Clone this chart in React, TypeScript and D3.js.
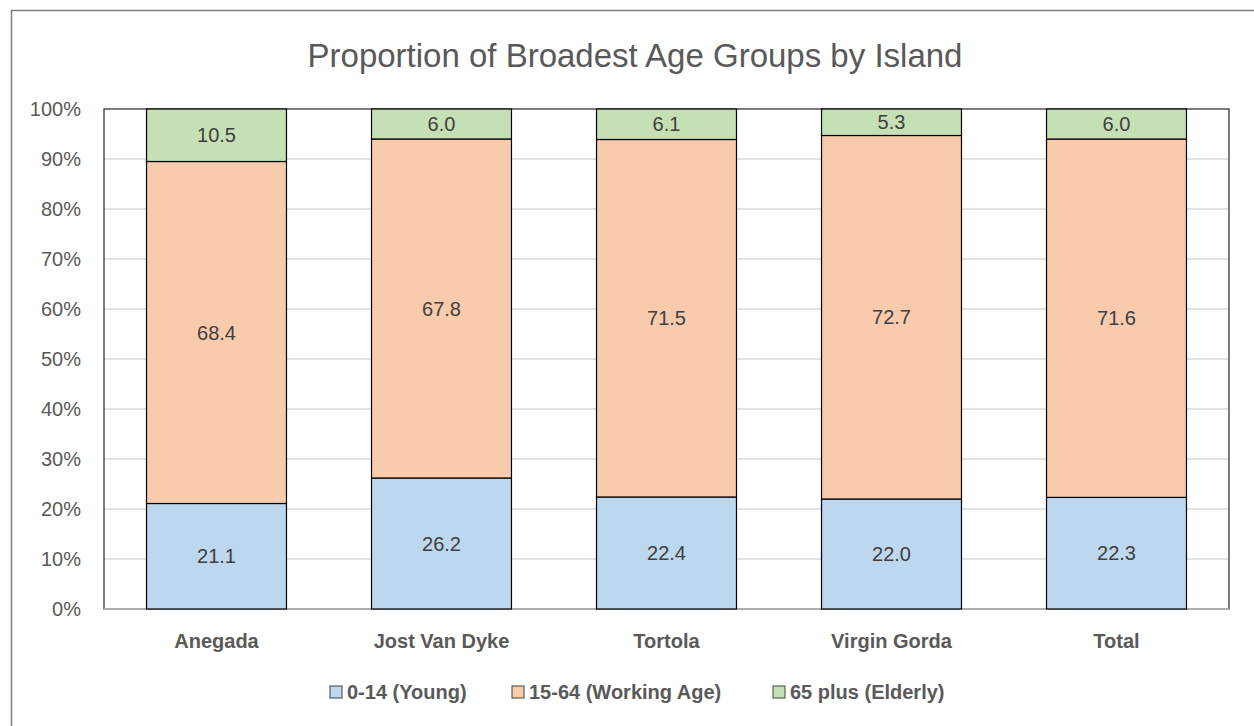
import React, { useEffect, useRef } from 'react';
import * as d3 from 'd3';

const islands = ['Anegada', 'Jost Van Dyke', 'Tortola', 'Virgin Gorda', 'Total'];
const seriesNames = ['0-14 (Young)', '15-64 (Working Age)', '65 plus (Elderly)'];
const young = [21.1, 26.2, 22.4, 22.0, 22.3];
const working = [68.4, 67.8, 71.5, 72.7, 71.6];
const elderly = [10.5, 6.0, 6.1, 5.3, 6.0];
const colors = ['#BDD7EE', '#F8CBAD', '#C5E0B4'];
const yTicks = [0, 0.1, 0.2, 0.3, 0.4, 0.5, 0.6, 0.7, 0.8, 0.9, 1];

const W = 1254;
const H = 726;

function App() {
  const ref = useRef<SVGSVGElement>(null);

  useEffect(() => {
    const svg = d3.select(ref.current);
    svg.selectAll('*').remove();

    const margin = { left: 104, right: 25, top: 109, bottom: 117 };
    const font = '"Liberation Sans", Arial, sans-serif';

    // outer chart border
    svg
      .append('rect')
      .attr('x', 11.5)
      .attr('y', 10.5)
      .attr('width', W)
      .attr('height', H)
      .attr('fill', '#fff')
      .attr('stroke', '#7f7f7f')
      .attr('stroke-width', 1.5);

    svg
      .append('text')
      .attr('x', 635)
      .attr('y', 67)
      .attr('text-anchor', 'middle')
      .attr('font-family', font)
      .attr('font-size', 33)
      .attr('fill', '#595959')
      .text('Proportion of Broadest Age Groups by Island');

    const rows = islands.map((name, i) => ({
      name,
      s0: young[i],
      s1: working[i],
      s2: elderly[i],
    }));
    const keys = ['s0', 's1', 's2'];
    const stacked = d3.stack<any>().keys(keys).offset(d3.stackOffsetExpand)(rows);

    const x = d3
      .scaleBand()
      .domain(islands)
      .range([margin.left, W - margin.right])
      .paddingInner(0.378)
      .paddingOuter(0.189);
    const y = d3.scaleLinear().domain([0, 1]).range([H - margin.bottom, margin.top]);

    const g = svg.append('g');

    // gridlines
    g.selectAll('.grid')
      .data(yTicks.slice(1, -1))
      .enter()
      .append('line')
      .attr('x1', margin.left)
      .attr('x2', W - margin.right)
      .attr('y1', d => y(d))
      .attr('y2', d => y(d))
      .attr('stroke', '#d9d9d9')
      .attr('stroke-width', 1.5);

    // plot area border
    g.append('rect')
      .attr('x', margin.left)
      .attr('y', margin.top)
      .attr('width', W - margin.left - margin.right)
      .attr('height', H - margin.top - margin.bottom)
      .attr('fill', 'none')
      .attr('stroke', '#262626')
      .attr('stroke-width', 1.2);

    g.append('line')
      .attr('x1', margin.left)
      .attr('x2', W - margin.right)
      .attr('y1', y(0))
      .attr('y2', y(0))
      .attr('stroke', '#bfbfbf')
      .attr('stroke-width', 1.5);

    // y axis labels
    g.selectAll('.ytick')
      .data(yTicks)
      .enter()
      .append('text')
      .attr('x', 81)
      .attr('y', d => y(d))
      .attr('dy', '0.35em')
      .attr('text-anchor', 'end')
      .attr('font-family', font)
      .attr('font-size', 20)
      .attr('fill', '#595959')
      .text(d => d3.format('.0%')(d));

    // bars
    stacked.forEach((layer, li) => {
      const lg = g.append('g');
      lg.selectAll('rect')
        .data(layer)
        .enter()
        .append('rect')
        .attr('x', d => x(d.data.name)!)
        .attr('y', d => y(d[1]))
        .attr('width', x.bandwidth())
        .attr('height', d => y(d[0]) - y(d[1]))
        .attr('fill', colors[li])
        .attr('stroke', '#000')
        .attr('stroke-width', 1.2);
      lg.selectAll('text')
        .data(layer)
        .enter()
        .append('text')
        .attr('x', d => x(d.data.name)! + x.bandwidth() / 2)
        .attr('y', d => (y(d[0]) + y(d[1])) / 2)
        .attr('dy', '0.35em')
        .attr('text-anchor', 'middle')
        .attr('font-family', font)
        .attr('font-size', 20)
        .attr('fill', '#404040')
        .text(d => d3.format('.1f')(d.data[keys[li]]));
    });

    // category labels
    g.selectAll('.xlab')
      .data(islands)
      .enter()
      .append('text')
      .attr('x', d => x(d)! + x.bandwidth() / 2)
      .attr('y', 641)
      .attr('dy', '0.35em')
      .attr('text-anchor', 'middle')
      .attr('font-family', font)
      .attr('font-size', 20)
      .attr('font-weight', 'bold')
      .attr('fill', '#595959')
      .text(d => d);

    // legend
    const legendX = [330, 512, 773];
    const legend = svg
      .selectAll('.legend')
      .data(seriesNames)
      .enter()
      .append('g')
      .attr('transform', (d, i) => `translate(${legendX[i]},692)`);
    legend
      .append('rect')
      .attr('x', 0)
      .attr('y', -6)
      .attr('width', 12)
      .attr('height', 12)
      .attr('fill', (d, i) => colors[i])
      .attr('stroke', '#404040')
      .attr('stroke-width', 1);
    legend
      .append('text')
      .attr('x', 17)
      .attr('y', 0)
      .attr('dy', '0.35em')
      .attr('font-family', font)
      .attr('font-size', 20)
      .attr('font-weight', 'bold')
      .attr('fill', '#595959')
      .text(d => d);
  }, []);

  return (
    <div style={{ position: 'absolute', left: 0, top: 0 }}>
      <svg ref={ref} width={W} height={H} style={{ display: 'block' }} />
    </div>
  );
}

export default App;
